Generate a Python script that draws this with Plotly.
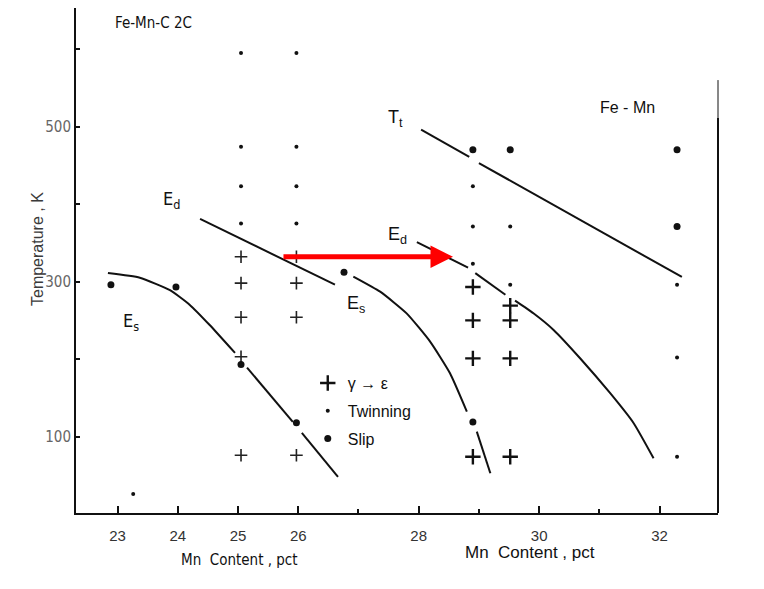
import plotly.graph_objects as go

# ---- data (Mn content in pct, temperature in K) ----
# Fe-Mn-C panel
cross_c_mn = [25.05, 25.05, 25.05, 25.05, 25.05,
              25.97, 25.97, 25.97, 25.97]
cross_c_T = [332, 298, 254, 203, 76,
             332, 298, 254, 76]
# Fe-Mn panel
cross_mn = [28.9, 28.9, 28.9, 28.9,
            29.52, 29.52, 29.52, 29.52]
cross_T = [293, 250, 201, 74,
           269, 250, 201, 74]

twin_mn = [25.05, 25.05, 25.05, 25.05,
           25.97, 25.97, 25.97, 25.97,
           28.9, 28.9, 28.9,
           29.52, 29.52,
           32.29, 32.29, 32.29,
           23.26]
twin_T = [595, 474, 423, 375,
          595, 474, 423, 375,
          423, 371, 323,
          371, 296,
          296, 202, 74,
          26]

slip_mn = [22.89, 23.97, 25.05, 25.97, 26.76, 28.9, 29.52, 32.29, 32.29, 28.9]
slip_T = [296, 293, 193, 118, 312, 470, 470, 470, 371, 119]

es_left_mn = [22.84, 23.37, 23.87, 24.2, 24.53, 24.95, None, 25.15, 25.91, None, 26.06, 26.66]
es_left_T = [311, 305, 289, 270, 244, 208, None, 189, 119, None, 105, 48]

ed_left_mn = [24.37, 26.61]
ed_left_T = [381, 296]

es_mid_mn = [26.915, 27.36, 27.80, 28.19, 28.52, 28.80, None, 28.965, 29.19]
es_mid_T = [306.5, 287, 259, 222.6, 181.8, 132.3, None, 106.5, 52.8]

tt_mn = [28.04, 28.84, None, 29.0, 32.37]
tt_T = [496, 461, None, 453, 306]

ed_right_mn = [27.97, 28.82, None, 28.94, 29.44, None, 29.60, 29.905, 30.24, 30.68, 31.18, 31.57, 31.90]
ed_right_T = [351, 318, None, 311, 283, None, 275.5, 259.2, 237.7, 201.2, 156.0, 117.3, 72.1]

arrow_from = (25.73, 332)
arrow_to = (28.57, 332)

x_tickvals = [23, 24, 25, 26, 28, 30, 32]
x_ticktext = ["23", "24", "25", "26", "28", "30", "32"]
x_minor = [27, 29, 31]
y_tickvals = [100, 300, 500]
y_ticktext = ["100", "300", "500"]
y_minor = [200, 400, 600]

NARROW = "Liberation Sans Narrow, DejaVu Sans Condensed, Arial Narrow, Liberation Sans, sans-serif"
SANS = "Liberation Sans, Arial, sans-serif"
INK = "#111111"

fig = go.Figure()

for xs, ys in [(es_left_mn, es_left_T), (ed_left_mn, ed_left_T), (es_mid_mn, es_mid_T),
               (tt_mn, tt_T), (ed_right_mn, ed_right_T)]:
    fig.add_trace(go.Scatter(x=xs, y=ys, mode="lines", line=dict(color=INK, width=2, shape="spline", smoothing=0.5),
                             connectgaps=False, showlegend=False, hoverinfo="skip"))

fig.add_trace(go.Scatter(x=cross_c_mn, y=cross_c_T, mode="markers", showlegend=False, hoverinfo="skip",
                         marker=dict(symbol="cross-thin", size=9, color="#222", line=dict(color="#222", width=1.6))))
fig.add_trace(go.Scatter(x=cross_mn, y=cross_T, mode="markers", name="γ → ε", legendgroup="a",
                         marker=dict(symbol="cross-thin", size=11, color=INK, line=dict(color=INK, width=2.4))))
fig.add_trace(go.Scatter(x=twin_mn, y=twin_T, mode="markers", name="Twinning", legendgroup="b",
                         marker=dict(symbol="circle", size=4, color=INK)))
fig.add_trace(go.Scatter(x=slip_mn, y=slip_T, mode="markers", name="Slip", legendgroup="c",
                         marker=dict(symbol="circle", size=7, color=INK)))

ann = []
def label(x, y, text, size, family=SANS, color=INK, **kw):
    ann.append(dict(x=x, y=y, text=text, showarrow=False, font=dict(size=size, family=family, color=color), **kw))

label(23.6, 634, "Fe-Mn-C 2C", 15, NARROW)
label(31.46, 525, "Fe - Mn", 16)
label(27.61, 511, "T<sub>t</sub>", 18)
label(23.89, 405, "E<sub>d</sub>", 18, NARROW)
label(27.64, 359, "E<sub>d</sub>", 18)
label(23.22, 248, "E<sub>s</sub>", 18, NARROW)
label(26.96, 270, "E<sub>s</sub>", 18)

ann.append(dict(x=25.03, y=-0.093, xref="x", yref="paper", xanchor="center", yanchor="middle",
                text="Mn  Content , pct", showarrow=False, font=dict(size=15, family=NARROW, color=INK)))
ann.append(dict(x=29.85, y=-0.079, xref="x", yref="paper", xanchor="center", yanchor="middle",
                text="Mn  Content , pct", showarrow=False, font=dict(size=17, family=SANS, color=INK)))
ann.append(dict(x=-0.059, y=0.523, xref="paper", yref="paper", xanchor="center", yanchor="middle",
                text="Temperature , K", showarrow=False,
                textangle=-90, font=dict(size=16, family=SANS, color="#3a3a3a")))

ann.append(dict(x=arrow_to[0], y=arrow_to[1], ax=arrow_from[0], ay=arrow_from[1], xref="x", yref="y",
                axref="x", ayref="y", text="", showarrow=True, arrowcolor="#ff0000", arrowwidth=5,
                arrowhead=2, arrowsize=0.9))

fig.update_layout(
    width=764, height=589,
    margin=dict(l=76, r=46, t=8, b=76),
    paper_bgcolor="white", plot_bgcolor="white",
    annotations=ann,
    legend=dict(x=0.361, y=0.291, xanchor="left", yanchor="top", bgcolor="rgba(0,0,0,0)",
                font=dict(size=16, family=SANS, color=INK), traceorder="grouped", tracegroupgap=4),
    shapes=[
        dict(type="line", xref="paper", yref="y", x0=1, x1=1, y0=511, y1=560, line=dict(color=INK, width=1)),
        dict(type="line", xref="paper", yref="paper", x0=1, x1=1, y0=0, y1=(511 - 1.5) / (653 - 1.5),
             line=dict(color=INK, width=2)),
    ],
)
fig.update_xaxes(range=[22.31, 32.97], showgrid=False, zeroline=False, showline=True, linecolor=INK, linewidth=2,
                 ticks="inside", ticklen=7, tickwidth=1.5, tickcolor=INK, tickvals=x_tickvals, ticktext=x_ticktext,
                 tickfont=dict(size=15, family=SANS, color="#333"), ticklabelstandoff=8,
                 minor=dict(tickvals=x_minor, ticks="inside", ticklen=4, tickwidth=1.5, tickcolor=INK))
fig.update_yaxes(range=[1.5, 653], showgrid=False, zeroline=False, showline=True, linecolor=INK, linewidth=2,
                 ticks="inside", ticklen=4, tickwidth=1.5, tickcolor=INK, tickvals=y_tickvals, ticktext=y_ticktext,
                 tickfont=dict(size=15, family=NARROW, color="#666"),
                 minor=dict(tickvals=y_minor, ticks="inside", ticklen=4, tickwidth=1.5, tickcolor=INK))

fig.write_html("out.html")
